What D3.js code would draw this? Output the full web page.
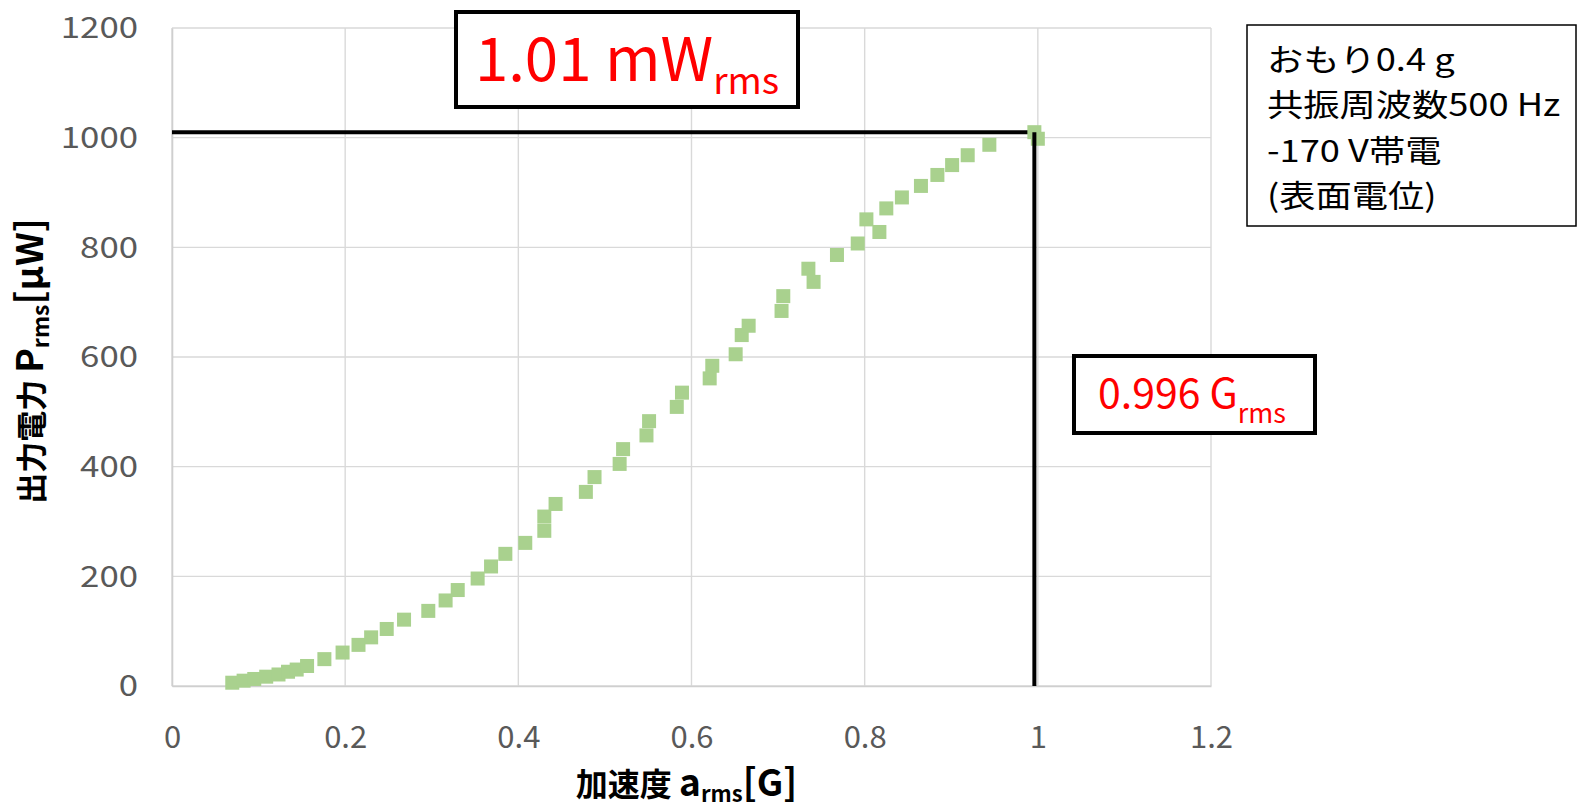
<!DOCTYPE html>
<html>
<head>
<meta charset="utf-8">
<script src="https://cdn.jsdelivr.net/npm/d3@7"></script>
<style>
  html, body { margin: 0; padding: 0; background: #fff; }
  svg { display: block; font-family: "Noto Sans CJK JP", "Noto Sans", sans-serif; }
</style>
</head>
<body>
<svg id="chart" width="1581" height="811"></svg>
<script>
// Acceleration (G rms) of each measurement
const accel = [
  0.0696, 0.0827, 0.095, 0.1088, 0.123, 0.134, 0.144, 0.156, 0.176, 0.197,
  0.2154, 0.230, 0.248, 0.268, 0.296, 0.316, 0.330, 0.353, 0.3685, 0.385,
  0.408, 0.430, 0.430, 0.443, 0.478, 0.488, 0.517, 0.521, 0.548, 0.551,
  0.583, 0.589, 0.621, 0.624, 0.651, 0.658, 0.666, 0.704, 0.706, 0.735,
  0.741, 0.768, 0.792, 0.802, 0.817, 0.825, 0.843, 0.865, 0.884, 0.901,
  0.919, 0.944, 0.996, 1.000
];
// Output power (µW rms) of each measurement
const power = [
  6, 9.7, 12.8, 17, 21, 26, 30, 36.5, 49, 61,
  75, 88.7, 104, 121, 137, 156, 175, 196, 218, 241,
  261, 283, 309, 332, 354, 381, 405, 432, 457, 483,
  509, 535, 561, 584, 605, 640, 657, 684, 711, 761,
  737, 786, 807, 851, 828, 871, 891, 912, 932, 950,
  968, 987, 1010, 998
];
const xTicks = [0, 0.2, 0.4, 0.6, 0.8, 1, 1.2];
const yTicks = [0, 200, 400, 600, 800, 1000, 1200];
// Peak operating point
const peakAccel = 0.996;   // G rms
const peakPower = 1010;    // µW rms
const noteLines = ["おもり0.4 g", "共振周波数500 Hz", "-170 V帯電", "(表面電位)"];

const svg = d3.select("#chart");
const x = d3.scaleLinear().domain([0, 1.2]).range([172, 1211]);
const y = d3.scaleLinear().domain([0, 1200]).range([686, 28]);

// Gridlines
const grid = svg.append("g");
grid.selectAll("line.h").data(yTicks).join("line")
  .attr("x1", x(0)).attr("x2", x(1.2))
  .attr("y1", d => y(d)).attr("y2", d => y(d))
  .attr("stroke", "#d9d9d9").attr("stroke-width", 1.4);
grid.selectAll("line.v").data(xTicks).join("line")
  .attr("y1", y(0)).attr("y2", y(1200))
  .attr("x1", d => x(d)).attr("x2", d => x(d))
  .attr("stroke", "#d9d9d9").attr("stroke-width", 1.4);

// Axes (frame lines + tick labels)
const xAxis = svg.append("g").attr("transform", `translate(0,${y(0)})`)
  .call(d3.axisBottom(x).tickValues(xTicks).tickSize(0).tickPadding(0).tickFormat(d3.format("~g")));
xAxis.select(".domain").attr("stroke", "#cfcfcf").attr("stroke-width", 1.6);
xAxis.selectAll("text")
  .attr("y", 62).attr("dy", null)
  .attr("fill", "#595959").attr("font-size", 31)
  .style("font-family", "'Noto Sans CJK JP', sans-serif");

const yAxis = svg.append("g").attr("transform", `translate(${x(0)},0)`)
  .call(d3.axisLeft(y).tickValues(yTicks).tickSize(0).tickPadding(0).tickFormat(d3.format("d")));
yAxis.select(".domain").attr("stroke", "#cfcfcf").attr("stroke-width", 1.6);
yAxis.selectAll("text")
  .attr("x", 0).attr("dy", "0.34em")
  .attr("transform", "translate(-34,0) scale(1.2,1)")
  .attr("text-anchor", "end")
  .attr("fill", "#595959").attr("font-size", 29)
  .style("font-family", "'Noto Sans CJK JP', sans-serif");

// Horizontal marker line at the peak power
svg.append("line")
  .attr("x1", x(0)).attr("x2", x(peakAccel))
  .attr("y1", y(peakPower)).attr("y2", y(peakPower))
  .attr("stroke", "#000").attr("stroke-width", 4);

// Measurement points
const pts = accel.map((a, i) => ({ a, p: power[i] }));
const s = 14;
svg.append("g").selectAll("rect").data(pts).join("rect")
  .attr("x", d => x(d.a) - s / 2).attr("y", d => y(d.p) - s / 2)
  .attr("width", s).attr("height", s)
  .attr("fill", "#a9d18e");

// Vertical marker line at the peak acceleration
svg.append("line")
  .attr("x1", x(peakAccel)).attr("x2", x(peakAccel))
  .attr("y1", y(peakPower)).attr("y2", y(0))
  .attr("stroke", "#000").attr("stroke-width", 4);

// Axis titles
const xt = svg.append("text")
  .attr("x", (x(0) + x(1.2)) / 2 - 5).attr("y", 796)
  .attr("text-anchor", "middle").attr("font-weight", "bold").attr("font-size", 32)
  .attr("fill", "#000");
xt.append("tspan").text("加速度 ");
xt.append("tspan").attr("font-size", 37).text("a");
xt.append("tspan").attr("font-size", 22).attr("dy", 6).text("rms");
xt.append("tspan").attr("font-size", 37).attr("dy", -6).text("[G]");

const yt = svg.append("text")
  .attr("transform", `translate(43,${(y(0) + y(1200)) / 2 + 4}) rotate(-90)`)
  .attr("text-anchor", "middle").attr("font-weight", "bold").attr("font-size", 31)
  .attr("fill", "#000");
yt.append("tspan").text("出力電力 ");
yt.append("tspan").attr("font-size", 37).text("P");
yt.append("tspan").attr("font-size", 23).attr("dy", 6).text("rms");
yt.append("tspan").attr("font-size", 37).attr("dy", -6).text("[μW]");

// Peak power callout
svg.append("rect")
  .attr("x", 456).attr("y", 12).attr("width", 342).attr("height", 95)
  .attr("fill", "#fff").attr("stroke", "#000").attr("stroke-width", 4);
const t1 = svg.append("text")
  .attr("x", 627).attr("y", 81).attr("text-anchor", "middle")
  .attr("fill", "#ff0000").attr("font-size", 60);
t1.append("tspan").text(`${peakPower / 1000} mW`);
t1.append("tspan").attr("font-size", 37).attr("dy", 13).text("rms");

// Peak acceleration callout
svg.append("rect")
  .attr("x", 1074).attr("y", 356).attr("width", 241).attr("height", 77)
  .attr("fill", "#fff").attr("stroke", "#000").attr("stroke-width", 4);
const t2 = svg.append("text")
  .attr("x", 1192).attr("y", 408).attr("text-anchor", "middle")
  .attr("fill", "#ff0000").attr("font-size", 41);
t2.append("tspan").text(`${peakAccel} G`);
t2.append("tspan").attr("font-size", 27).attr("dy", 15).text("rms");

// Test condition note
svg.append("rect")
  .attr("x", 1247).attr("y", 25).attr("width", 329).attr("height", 201)
  .attr("fill", "#fff").attr("stroke", "#000").attr("stroke-width", 1.5);
svg.append("g").attr("transform", "translate(1267,0) scale(1.17,1)")
  .selectAll("text").data(noteLines).join("text")
  .attr("x", 0).attr("y", (d, i) => 71 + i * 45.3)
  .attr("font-size", 31).attr("fill", "#000")
  .text(d => d);
</script>
</body>
</html>
